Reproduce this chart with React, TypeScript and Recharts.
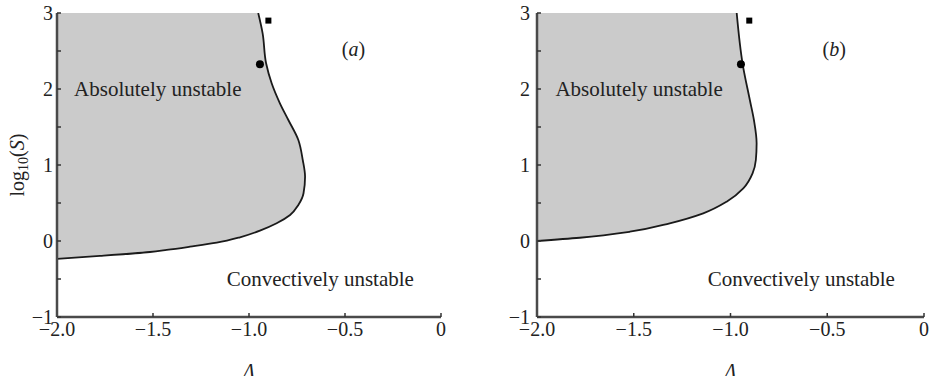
import React from 'react';
import { ComposedChart, Area, XAxis, YAxis, Scatter, ReferenceDot } from 'recharts';

// ---- data ----
const xTicks = [-2, -1.5, -1, -0.5, 0];
const xTickLabels = ['\u22122.0', '\u22121.5', '\u22121.0', '\u22120.5', '0'];
const yTicks = [-1, -0.5, 0, 0.5, 1, 1.5, 2, 2.5, 3];
const yTickLabels = ['\u22121', '', '0', '', '1', '', '2', '', '3'];

// boundary between absolutely / convectively unstable regions (x = Λ, y = log10 S)
const boundaryA = [
  { y: -0.235, x: -2.0 },
  { y: -0.197, x: -1.776 },
  { y: -0.145, x: -1.516 },
  { y: -0.118, x: -1.429 },
  { y: -0.075, x: -1.307 },
  { y: -0.022, x: -1.168 },
  { y: 0.049, x: -1.047 },
  { y: 0.136, x: -0.943 },
  { y: 0.233, x: -0.856 },
  { y: 0.342, x: -0.786 },
  { y: 0.474, x: -0.743 },
  { y: 0.628, x: -0.716 },
  { y: 0.846, x: -0.708 },
  { y: 1.066, x: -0.72 },
  { y: 1.329, x: -0.743 },
  { y: 1.592, x: -0.795 },
  { y: 1.812, x: -0.839 },
  { y: 2.075, x: -0.882 },
  { y: 2.338, x: -0.911 },
  { y: 2.733, x: -0.929 },
  { y: 3.0, x: -0.952 },
];

const boundaryB = [
  { y: 0.0, x: -2.0 },
  { y: 0.043, x: -1.779 },
  { y: 0.122, x: -1.52 },
  { y: 0.233, x: -1.314 },
  { y: 0.364, x: -1.141 },
  { y: 0.517, x: -1.02 },
  { y: 0.693, x: -0.934 },
  { y: 0.891, x: -0.886 },
  { y: 1.066, x: -0.869 },
  { y: 1.286, x: -0.865 },
  { y: 1.592, x: -0.879 },
  { y: 1.855, x: -0.9 },
  { y: 2.325, x: -0.937 },
  { y: 3.0, x: -0.968 },
];

const circlesA = [{ x: -0.943, y: 2.325 }];
const squaresA = [{ x: -0.899, y: 2.9 }];
const circlesB = [{ x: -0.946, y: 2.325 }];
const squaresB = [{ x: -0.903, y: 2.9 }];

const textsA = [
  { x: -1.911, y: 2.0, text: 'Absolutely unstable' },
  { x: -1.116, y: -0.5, text: 'Convectively unstable' },
];
const textsB = [
  { x: -1.905, y: 2.0, text: 'Absolutely unstable' },
  { x: -1.118, y: -0.5, text: 'Convectively unstable' },
];
const panelTagA = { x: -0.517, y: 2.526, tag: 'a' };
const panelTagB = { x: -0.524, y: 2.526, tag: 'b' };

// ---- styles ----
const FONT = '"Liberation Serif", "Times New Roman", serif';
const TEXT = '#222';
const AXIS = '#4a4a4a';

const fmtX = (v: number) => xTickLabels[xTicks.indexOf(v)] ?? '';
const fmtY = (v: number) => yTickLabels[yTicks.indexOf(v)] ?? '';

const circleShape = (p: any) => <circle cx={p.cx} cy={p.cy} r={4} fill="#000" />;
const squareShape = (p: any) => <rect x={p.cx - 3} y={p.cy - 3} width={6} height={6} fill="#000" />;

const YTitle = (props: any) => {
  const vb = props.viewBox || { x: 0, y: 0, height: 0 };
  const cx = vb.x + 24;
  const cy = vb.y + vb.height / 2;
  return (
    <text x={cx} y={cy} transform={`rotate(-90 ${cx} ${cy})`} textAnchor="middle" fontFamily={FONT} fontSize={20} fill={TEXT}>
      log
      <tspan fontSize={14} dy={4}>10</tspan>
      <tspan dy={-4}>(</tspan>
      <tspan fontStyle="italic">S</tspan>
      <tspan>)</tspan>
    </text>
  );
};

const XTitle = (props: any) => {
  const vb = props.viewBox || { x: 0, y: 0, width: 0 };
  return (
    <text x={vb.x + vb.width / 2} y={vb.y + 61} textAnchor="middle" fontFamily={FONT} fontSize={20} fontStyle="italic" fill={TEXT}>
      {'\u039B'}
    </text>
  );
};

type PanelProps = {
  boundary: { x: number; y: number }[];
  circles: { x: number; y: number }[];
  squares: { x: number; y: number }[];
  texts: { x: number; y: number; text: string }[];
  tag: { x: number; y: number; tag: string };
  width: number;
  yAxisWidth: number;
  rightMargin: number;
  yTickMargin: number;
  showYTitle: boolean;
};

const Panel = ({ boundary, circles, squares, texts, tag, width, yAxisWidth, rightMargin, yTickMargin, showYTitle }: PanelProps) => (
  <ComposedChart
    width={width}
    height={376}
    layout="vertical"
    margin={{ top: 13, right: rightMargin, bottom: 29, left: 0 }}
    style={{ fontFamily: FONT }}
  >
    <XAxis
      type="number"
      dataKey="x"
      domain={[-2, 0]}
      ticks={xTicks}
      interval={0}
      allowDataOverflow
      height={30}
      tickFormatter={fmtX}
      tickSize={-4}
      tickMargin={9}
      axisLine={{ stroke: AXIS, strokeWidth: 2.5 }}
      tickLine={{ stroke: '#333', strokeWidth: 1.5 }}
      tick={{ fontFamily: FONT, fontSize: 20, fill: TEXT }}
      label={XTitle}
    />
    <YAxis
      type="number"
      dataKey="y"
      domain={[-1, 3]}
      reversed
      ticks={yTicks}
      interval={0}
      allowDataOverflow
      width={yAxisWidth}
      tickFormatter={fmtY}
      tickSize={-4}
      tickMargin={yTickMargin}
      axisLine={{ stroke: AXIS, strokeWidth: 2.5 }}
      tickLine={{ stroke: '#333', strokeWidth: 1.5 }}
      tick={{ fontFamily: FONT, fontSize: 20, fill: TEXT }}
      label={showYTitle ? YTitle : undefined}
    />
    <Area
      data={boundary}
      dataKey="x"
      type="monotone"
      baseValue={-2}
      stroke="#1a1a1a"
      strokeWidth={1.8}
      fill="#cbcbcb"
      fillOpacity={1}
      dot={false}
      activeDot={false}
      isAnimationActive={false}
    />
    <Scatter data={circles} shape={circleShape} isAnimationActive={false} />
    <Scatter data={squares} shape={squareShape} isAnimationActive={false} />
    {texts.map((t, i) => (
      <ReferenceDot
        key={i}
        x={t.x}
        y={t.y}
        r={0}
        shape={(p: any) => (
          <text x={p.cx} y={p.cy} dy="0.33em" textAnchor="start" fontFamily={FONT} fontSize={21} fill={TEXT}>
            {t.text}
          </text>
        )}
      />
    ))}
    <ReferenceDot
      x={tag.x}
      y={tag.y}
      r={0}
      shape={(p: any) => (
        <text x={p.cx} y={p.cy} dy="0.33em" textAnchor="start" fontFamily={FONT} fontSize={20} fill={TEXT}>
          (<tspan fontStyle="italic">{tag.tag}</tspan>)
        </text>
      )}
    />
  </ComposedChart>
);

export default function App() {
  return (
    <div style={{ position: 'absolute', left: 0, top: 0, width: 933, height: 376, background: '#fff' }}>
      <div style={{ position: 'absolute', left: 0, top: 0 }}>
        <Panel
          boundary={boundaryA}
          circles={circlesA}
          squares={squaresA}
          texts={textsA}
          tag={panelTagA}
          width={466}
          yAxisWidth={57}
          rightMargin={25}
          yTickMargin={8}
          showYTitle
        />
      </div>
      <div style={{ position: 'absolute', left: 466, top: 0 }}>
        <Panel
          boundary={boundaryB}
          circles={circlesB}
          squares={squaresB}
          texts={textsB}
          tag={panelTagB}
          width={467}
          yAxisWidth={71}
          rightMargin={9}
          yTickMargin={11}
          showYTitle={false}
        />
      </div>
    </div>
  );
}
